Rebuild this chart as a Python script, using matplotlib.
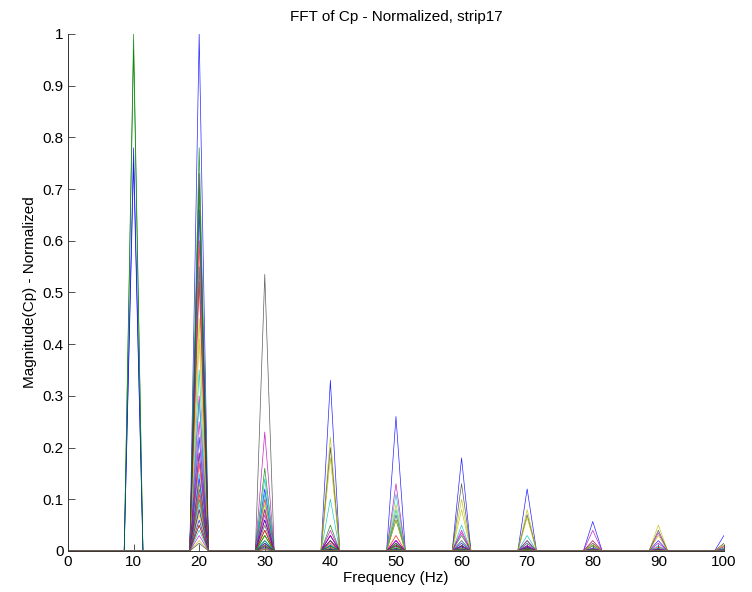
import numpy as np
import matplotlib
matplotlib.use('Agg')
import matplotlib.pyplot as plt

plt.rcParams['font.family'] = ['Liberation Sans', 'DejaVu Sans']

# harmonic frequencies (Hz) and the normalised peak height of each sensor at them
harmonics = [10, 20, 30, 40, 50, 60, 70, 80, 90, 100]
df = 10 / 7.  # frequency resolution of the FFT

amp10 = [0.78, 1.0, 0, 0, 0, 0, 0, 0.75, 0.97, 0, 0, 0, 0, 0, 0, 0, 0, 0,
         0, 0, 0, 0, 0, 0, 0, 0, 0, 0, 0, 0, 0, 0, 0, 0, 0]
amp20 = [1.0, 0.78, 0.60, 0.35, 0.30, 0.45, 0.73, 0.66, 0.70, 0.52, 0.29, 0.25, 0.41, 0.55,
         0.22, 0.19, 0.17, 0.15, 0.19, 0.13, 0.12, 0.14, 0.10, 0.11, 0.09, 0.08, 0.07,
         0.08, 0.06, 0.05, 0.05, 0.04, 0.03, 0.02, 0.015]
amp30 = [0.12, 0.16, 0.10, 0.14, 0.23, 0.09, 0.535, 0.05, 0.08, 0.06, 0.11, 0.07, 0.05, 0.04,
         0.06, 0.03, 0.04, 0.02, 0.08, 0.03, 0.02, 0.015, 0.03, 0.01, 0.02, 0.012, 0.01,
         0.015, 0.008, 0.01, 0.006, 0.005, 0.004, 0.003, 0.002]
amp40 = [0.33, 0.05, 0.03, 0.10, 0.04, 0.22, 0.20, 0.03, 0.02, 0.015, 0.012, 0.03, 0.18, 0.02,
         0.01, 0.02, 0.008, 0.01, 0.02, 0.006, 0.005, 0.004, 0.01, 0.003, 0.004, 0.003,
         0.002, 0.003, 0.002, 0.002, 0.001, 0.001, 0.001, 0.001, 0.001]
amp50 = [0.26, 0.06, 0.03, 0.11, 0.13, 0.09, 0.07, 0.02, 0.015, 0.01, 0.08, 0.02, 0.06, 0.015,
         0.01, 0.012, 0.01, 0.008, 0.02, 0.006, 0.005, 0.004, 0.005, 0.003, 0.003, 0.002,
         0.002, 0.002, 0.002, 0.001, 0.001, 0.001, 0.001, 0.001, 0.001]
amp60 = [0.18, 0.03, 0.02, 0.05, 0.04, 0.10, 0.13, 0.015, 0.01, 0.01, 0.02, 0.035, 0.08, 0.01,
         0.008, 0.01, 0.006, 0.005, 0.01, 0.004, 0.003, 0.003, 0.004, 0.002, 0.002, 0.002,
         0.001, 0.001, 0.001, 0.001, 0.001, 0.001, 0.001, 0.001, 0.001]
amp70 = [0.12, 0.02, 0.015, 0.03, 0.02, 0.08, 0.07, 0.01, 0.008, 0.006, 0.015, 0.01, 0.065, 0.008,
         0.006, 0.005, 0.004, 0.004, 0.01, 0.003, 0.002, 0.002, 0.003, 0.002, 0.001, 0.001,
         0.001, 0.001, 0.001, 0.001, 0.001, 0.001, 0.001, 0.001, 0.001]
amp80 = [0.057, 0.01, 0.01, 0.01, 0.04, 0.02, 0.015, 0.005, 0.004, 0.004, 0.006, 0.02, 0.012, 0.004,
         0.003, 0.003, 0.002, 0.002, 0.005, 0.002, 0.001, 0.001, 0.002, 0.001, 0.001, 0.001,
         0.001, 0.001, 0.001, 0.001, 0.001, 0.001, 0.001, 0.001, 0.001]
amp90 = [0.02, 0.005, 0.008, 0.01, 0.035, 0.05, 0.04, 0.004, 0.003, 0.003, 0.005, 0.015, 0.03, 0.003,
         0.002, 0.002, 0.002, 0.001, 0.004, 0.001, 0.001, 0.001, 0.002, 0.001, 0.001, 0.001,
         0.001, 0.001, 0.001, 0.001, 0.001, 0.001, 0.001, 0.001, 0.001]
amp100 = [0.03, 0.005, 0.004, 0.005, 0.01, 0.01, 0.015, 0.003, 0.002, 0.002, 0.003, 0.008, 0.012, 0.002,
          0.001, 0.001, 0.001, 0.001, 0.002, 0.001, 0.001, 0.001, 0.001, 0.001, 0.001, 0.001,
          0.001, 0.001, 0.001, 0.001, 0.001, 0.001, 0.001, 0.001, 0.001]

# old matlab colour order
colors = [(0, 0, 1), (0, 0.5, 0), (1, 0, 0), (0, 0.75, 0.75),
          (0.75, 0, 0.75), (0.75, 0.75, 0), (0.25, 0.25, 0.25)]

amps = np.array([amp10, amp20, amp30, amp40, amp50, amp60, amp70, amp80, amp90, amp100]).T
nbins = int(round(harmonics[-1] / df)) + 1
freq = np.arange(nbins) * df
bins = [int(round(h / df)) for h in harmonics]

fig = plt.figure(figsize=(7.52, 5.92), dpi=100)
ax = fig.add_axes([0.0904, 0.0693, 0.8723, 0.8733])

for i, row in enumerate(amps):
    spec = np.zeros(nbins)
    spec[bins] = row
    ax.plot(freq, spec, '-', c=colors[i % 7], lw=0.5, alpha=0.85)

ax.set_xlim([0, 100])
ax.set_ylim([0, 1])
ax.set_xticks(np.arange(0, 101, 10))
ax.set_yticks(np.arange(0, 1.01, 0.1))
ax.set_yticklabels(['0', '0.1', '0.2', '0.3', '0.4', '0.5', '0.6', '0.7', '0.8', '0.9', '1'])
ax.tick_params(direction='in', length=5, width=0.6, labelsize=11, pad=3, color='#333333')
for s in ['top', 'right']:
    ax.spines[s].set_visible(False)
for s in ['left', 'bottom']:
    ax.spines[s].set_linewidth(0.7)
    ax.spines[s].set_color('#333333')

ax.set_title('FFT of Cp - Normalized, strip17', fontsize=11, pad=9)
ax.set_xlabel('Frequency (Hz)', fontsize=11, labelpad=1)
ax.set_ylabel('Magnitude(Cp) - Normalized', fontsize=11, labelpad=4)

plt.savefig('out.png', dpi=100)
plt.close()
